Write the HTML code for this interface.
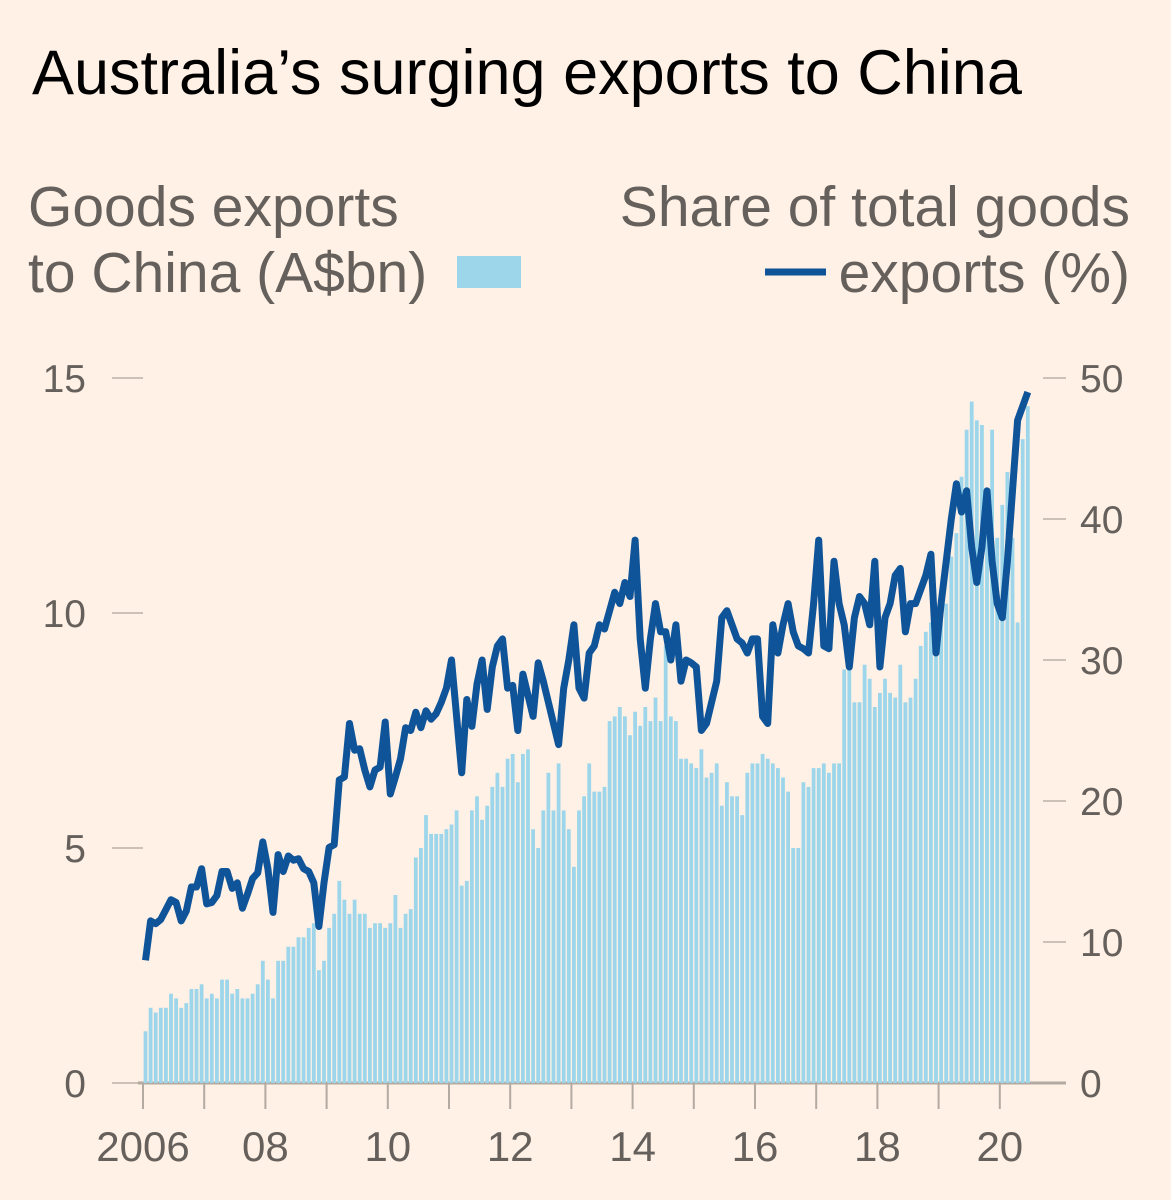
<!DOCTYPE html>
<html><head><meta charset="utf-8"><style>
body{margin:0;background:#fff1e5;}
svg{display:block;}
text{font-family:"Liberation Sans",sans-serif;}
</style></head><body>
<svg id="chart" width="1171" height="1200" viewBox="0 0 1171 1200">
<rect width="1171" height="1200" fill="#fff1e5"/>
<text x="32" y="94" font-size="63" fill="#000">Australia’s surging exports to China</text>
<text x="28" y="226" font-size="57" fill="#66605c">Goods exports</text>
<text x="28" y="292" font-size="57" fill="#66605c">to China (A$bn)</text>
<rect x="457" y="256" width="64" height="32" fill="#9dd6ea"/>
<text x="1130" y="226" font-size="57" fill="#66605c" text-anchor="end">Share of total goods</text>
<text x="1130" y="292" font-size="57" fill="#66605c" text-anchor="end">exports (%)</text>
<line x1="765" y1="272" x2="826" y2="272" stroke="#0f5499" stroke-width="7"/>
<g id="axes"></g>
<g id="bars"></g>
<g id="line"></g>
</svg>
<script>
const startYear = 2006;
const barValues = [
1.1,1.6,1.5,1.6,1.6,1.9,1.8,1.6,1.7,2.0,2.0,2.1,
1.8,1.9,1.8,2.2,2.2,1.9,2.0,1.8,1.8,1.9,2.1,2.6,
2.2,1.8,2.6,2.6,2.9,2.9,3.1,3.1,3.3,3.4,2.4,2.6,
3.3,3.6,4.3,3.9,3.6,3.9,3.6,3.6,3.3,3.4,3.4,3.3,
3.4,4.0,3.3,3.6,3.7,4.8,5.0,5.7,5.3,5.3,5.3,5.4,
5.5,5.8,4.2,4.3,5.8,6.1,5.6,5.9,6.3,6.6,6.3,6.9,
7.0,6.4,7.0,7.1,5.4,5.0,5.8,6.6,5.8,6.8,5.8,5.4,
4.6,5.8,6.1,6.8,6.2,6.2,6.3,7.7,7.8,8.0,7.8,7.4,
7.9,7.6,8.0,7.7,8.2,7.7,9.3,7.8,7.7,6.9,6.9,6.8,
6.7,7.1,6.5,6.6,6.8,5.9,6.4,6.1,6.1,5.7,6.6,6.8,
6.8,7.0,6.9,6.8,6.7,6.5,6.2,5.0,5.0,6.4,6.3,6.7,
6.7,6.8,6.6,6.8,6.8,8.8,9.6,8.1,8.1,8.9,8.6,8.0,
8.3,8.6,8.3,8.2,8.9,8.1,8.2,8.6,9.3,9.6,9.8,10.0,
10.2,10.2,11.2,11.7,12.9,13.9,14.5,14.1,14.0,12.5,13.9,11.6,
12.3,13.0,11.6,9.8,13.7,14.4];
const shareValues = [
8.7,11.5,11.3,11.6,12.3,13.0,12.8,11.5,12.2,13.9,13.9,15.2,
12.7,12.8,13.3,15.0,15.0,13.8,14.2,12.4,13.4,14.5,14.9,17.1,
15.2,12.1,16.2,15.0,16.1,15.8,15.9,15.2,15.0,14.2,11.1,14.2,
16.7,16.9,21.5,21.7,25.5,23.6,23.7,22.2,21.0,22.2,22.4,25.6,
20.5,21.7,23.0,25.2,25.0,26.3,25.2,26.4,25.8,26.2,27.0,28.0,
30.0,26.0,22.0,27.2,25.3,28.3,30.0,26.5,29.5,31.0,31.5,28.0,
28.2,25.0,29.0,27.5,26.0,29.8,28.5,27.0,25.5,24.0,28.0,30.0,
32.5,28.0,27.3,30.5,31.0,32.5,32.2,33.5,34.8,34.0,35.5,34.5,
38.5,31.5,28.0,31.5,34.0,32.0,32.0,30.0,32.5,28.5,30.0,29.8,
29.5,25.0,25.5,27.0,28.5,33.0,33.5,32.5,31.5,31.2,30.5,31.5,
31.5,26.0,25.5,32.5,30.5,32.5,34.0,32.0,31.0,30.8,30.5,34.0,
38.5,31.0,30.8,37.0,34.0,32.5,29.5,33.0,34.5,34.0,32.5,37.0,
29.5,33.0,34.0,36.0,36.5,32.0,34.0,34.0,35.0,36.0,37.5,30.5,
34.0,37.0,40.0,42.5,40.5,42.0,38.0,35.5,38.0,42.0,37.0,34.0,
33.0,37.0,42.0,47.0,48.0,49.0];
const leftTicks = [0,5,10,15];
const rightTicks = [0,10,20,30,40,50];
const xTickLabels = ["2006","08","10","12","14","16","18","20"];

const NS="http://www.w3.org/2000/svg";
const x0=143, pxYear=61.2, yBase=1083;
const xm = i => x0 + i*pxYear/12;
const yL = v => yBase - v*(705/15);
const yR = v => yBase - v*(705/50);
function mk(tag, attrs, parent){const e=document.createElementNS(NS,tag);for(const k in attrs)e.setAttribute(k,attrs[k]);parent.appendChild(e);return e;}
const axes=document.getElementById('axes'), bars=document.getElementById('bars'), line=document.getElementById('line');

leftTicks.forEach(v=>{
  const t=mk('line',{x1:112,x2:143,y1:yL(v),y2:yL(v),stroke:'#ccc1b7','stroke-width':2},axes);
  
  
  const l=mk('text',{x:86,y:yL(v)+14,'font-size':39,fill:'#66605c','text-anchor':'end'},axes);
  l.textContent=v;
  
  
});
rightTicks.forEach(v=>{
  const t=mk('line',{x1:1043,x2:1066,y1:yR(v),y2:yR(v),stroke:'#ccc1b7','stroke-width':2},axes);
  
  
  const l=mk('text',{x:1080,y:yR(v)+14,'font-size':39,fill:'#66605c'},axes);
  l.textContent=v;
  
  
});
barValues.forEach((v,i)=>{
  const x=xm(i)+0.6;
  const r=mk('rect',{x:x,y:yL(v),width:3.8,height:yBase-yL(v),fill:'#9dd6ea'},bars);
  
  
});
const pts=shareValues.map((v,i)=>(xm(i)+2.5).toFixed(1)+','+yR(v).toFixed(1)).join(' ');
const pl=mk('polyline',{points:pts,fill:'none',stroke:'#0f5499','stroke-width':7,'stroke-linejoin':'round'},line);



const ax=mk('line',{x1:138,x2:1066,y1:yBase,y2:yBase,stroke:'#b3aaa2','stroke-width':3},axes);


for(let y=0;y<=14;y++){
  const t=mk('line',{x1:x0+y*pxYear,x2:x0+y*pxYear,y1:yBase,y2:yBase+26,stroke:'#b3aaa2','stroke-width':2},axes);
  
  
}
xTickLabels.forEach((s,k)=>{
  const l=mk('text',{x:x0+k*2*pxYear,y:1161,'font-size':42,fill:'#66605c','text-anchor':'middle'},axes);
  l.textContent=s;
  
  
});
</script>
</body></html>
